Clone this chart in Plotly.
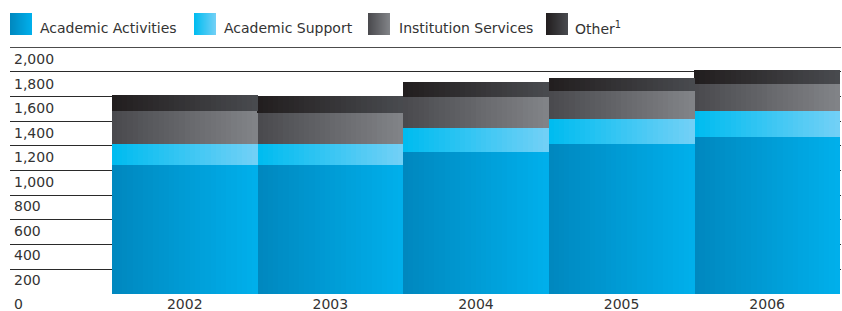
import plotly.graph_objects as go

# ---- data ----
years = ["2002", "2003", "2004", "2005", "2006"]
academic_activities = [1045, 1045, 1150, 1215, 1271]
academic_support = [170, 170, 194, 202, 211]
institution_services = [267, 251, 251, 227, 218]
other = [129, 137, 122, 105, 114]
series_names = ["Academic Activities", "Academic Support", "Institution Services", "Other<sup>1</sup>"]
y_tick_values = [0, 200, 400, 600, 800, 1000, 1200, 1400, 1600, 1800, 2000]
y_tick_labels = ["0", "200", "400", "600", "800", "1,000", "1,200", "1,400", "1,600", "1,800", "2,000"]

# ---- style ----
gradients = [
    ("#0088BF", "#00AFEB"),
    ("#00BCF0", "#71D0F6"),
    ("#4A4A4E", "#818387"),
    ("#221E1F", "#484A4E"),
]
FONT = "DejaVu Sans"
TXT = "#333333"
W, H = 842, 311
ML, MR, MT, MB = 10, 1, 47, 17
PW, PH = W - ML - MR, H - MT - MB
N = 28


def hex2rgb(h):
    h = h.lstrip("#")
    return tuple(int(h[i:i + 2], 16) for i in (0, 2, 4))


def mix(a, b, t):
    ra, rb = hex2rgb(a), hex2rgb(b)
    return "rgb(%d,%d,%d)" % tuple(round(ra[i] + (rb[i] - ra[i]) * t) for i in range(3))


def px(x):
    return (x - ML) / PW


def py(y):
    return (H - MB - y) / PH


fig = go.Figure()
series = [academic_activities, academic_support, institution_services, other]
idx = list(range(len(years)))
for s, vals in enumerate(series):
    c0, c1 = gradients[s]
    for k in range(N):
        t = k / (N - 1)
        xs = [i - 0.5 + (k + 0.5) / N for i in idx]
        fig.add_trace(go.Bar(
            x=xs, y=vals, width=1.0 / N * 1.08,
            marker=dict(color=mix(c0, c1, t), line=dict(width=0)),
            showlegend=False, hoverinfo="skip",
        ))

shapes = []
annotations = []
# top gridline at the range end
shapes.append(dict(type="line", xref="paper", yref="y", x0=0, x1=1,
                   y0=y_tick_values[-1], y1=y_tick_values[-1],
                   line=dict(color="#111111", width=1.6), layer="below"))
# manual legend
sq_x = [10, 194, 368, 546]
txt_x = [38, 222, 397, 573]
NS = 22
for s in range(4):
    c0, c1 = gradients[s]
    for k in range(NS):
        x0 = sq_x[s] + 22 * k / NS
        x1 = sq_x[s] + 22 * (k + 1) / NS + 0.6
        shapes.append(dict(type="rect", xref="paper", yref="paper",
                           x0=px(x0), x1=px(min(x1, sq_x[s] + 22)), y0=py(35), y1=py(13),
                           fillcolor=mix(c0, c1, k / (NS - 1)), line=dict(width=0), layer="above"))
    annotations.append(dict(text=series_names[s], xref="paper", yref="paper",
                            x=px(txt_x[s]), y=py(28), xanchor="left", yanchor="middle",
                            showarrow=False, font=dict(family=FONT, size=14, color=TXT)))

# y labels below their gridlines
for v, lab in zip(y_tick_values, y_tick_labels):
    annotations.append(dict(text=lab, xref="paper", yref="y", x=px(12), y=v,
                            xanchor="left", yanchor="middle", yshift=-10 - v / 1000.0,
                            showarrow=False, font=dict(family=FONT, size=14, color=TXT)))

fig.update_layout(
    width=W, height=H,
    margin=dict(l=ML, r=MR, t=MT, b=MB, pad=0),
    paper_bgcolor="white", plot_bgcolor="white",
    barmode="stack", bargap=0,
    showlegend=False,
    shapes=shapes, annotations=annotations,
    xaxis=dict(range=[-1.2, 4.507], tickmode="array", tickvals=idx, ticktext=years,
               showgrid=False, zeroline=False, showline=False, ticks="",
               tickfont=dict(family=FONT, size=14, color=TXT), automargin=False, fixedrange=True),
    yaxis=dict(range=[0, 2000], tickmode="array", tickvals=y_tick_values[1:-1],
               showticklabels=False, showgrid=True, gridcolor="#2a2a2a", gridwidth=1,
               zeroline=False, showline=False, ticks="", automargin=False, fixedrange=True),
)

fig.write_html("out.html", config={"displayModeBar": False},
               post_script="document.body.style.margin='0';document.body.style.overflow='hidden';")
